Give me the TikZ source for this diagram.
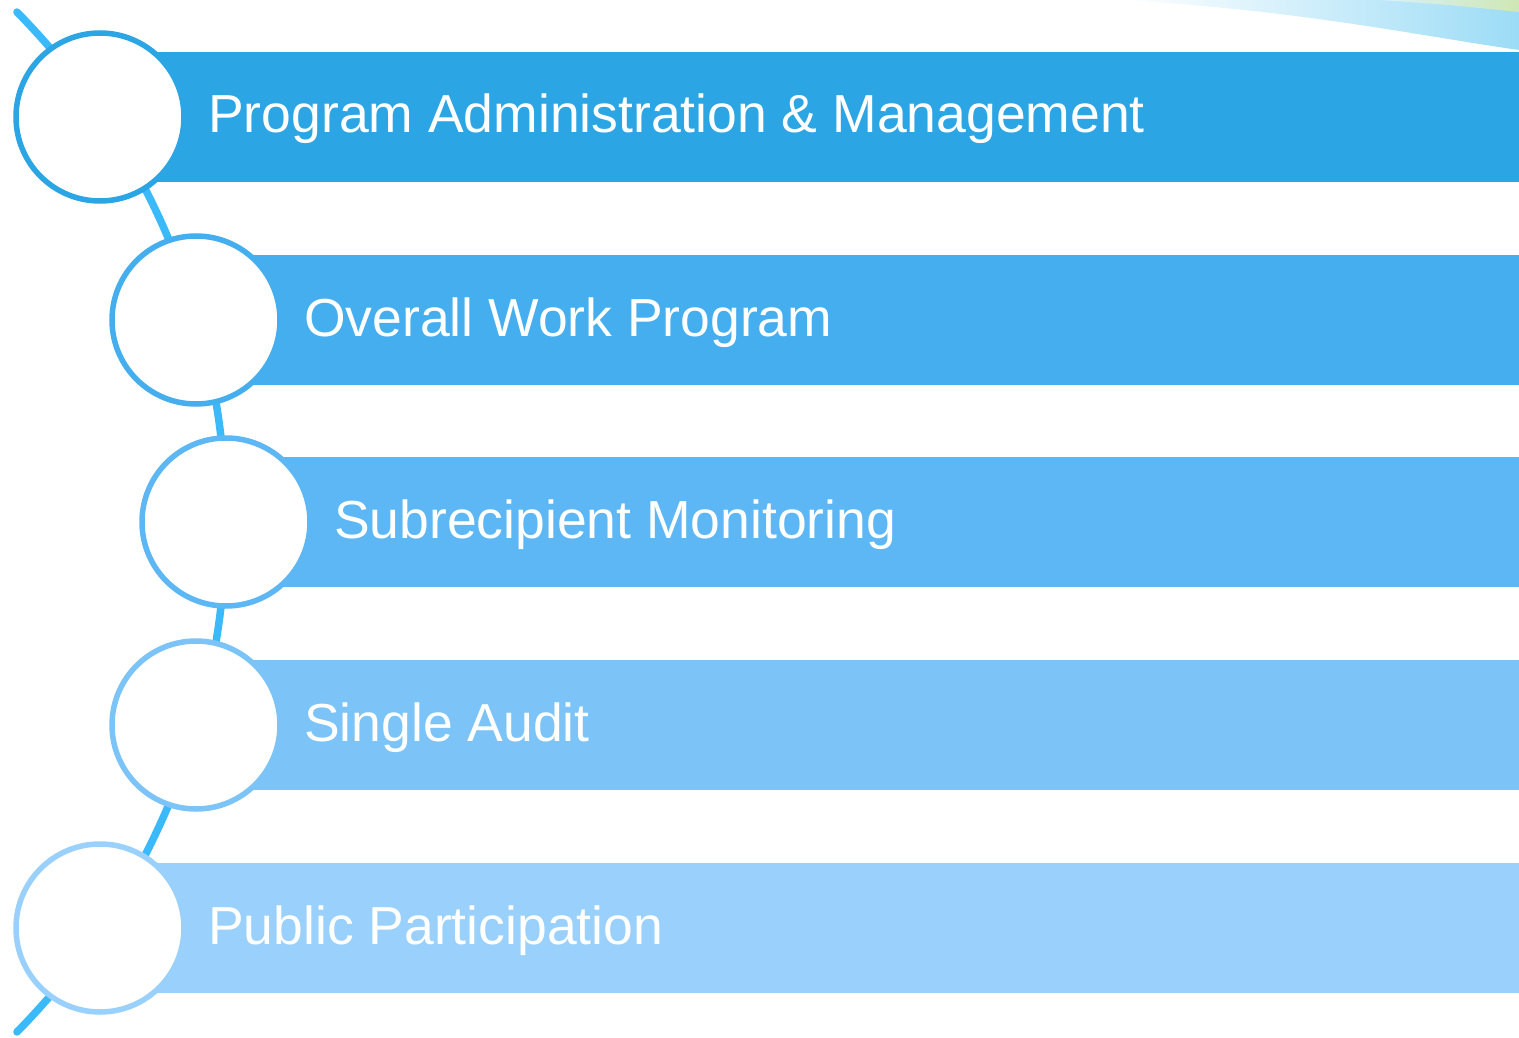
\documentclass[tikz,border=0pt]{standalone}
\usepackage{fontspec}
\setmainfont{Liberation Sans}
\usepackage{xcolor}
\usetikzlibrary{positioning}
\definecolor{stepA}{HTML}{2CA5E5}
\definecolor{stepB}{HTML}{45AEEF}
\definecolor{stepC}{HTML}{5EB7F5}
\definecolor{stepD}{HTML}{7CC3F8}
\definecolor{stepE}{HTML}{9AD0FC}
\definecolor{arcblue}{HTML}{3AB9FB}
\definecolor{streakblue}{HTML}{9CDCF6}
\definecolor{streakgreen}{HTML}{CFE7B4}

\begin{document}
\begin{tikzpicture}[x=1pt, y=-1pt,
		stepcircle/.style={circle, draw, line width=5.5pt, fill=white, minimum size=168pt, inner sep=0pt},
		stepbar/.style={rectangle, anchor=west, minimum height=130pt, inner sep=0pt},
		steptext/.style={anchor=base west, inner sep=0pt, text=white, font=\fontsize{53.5}{60}\selectfont}]
		\useasboundingbox (0,0) rectangle (1519,1038);
		\shade[left color=white, right color=streakblue] (1120,0) .. controls (1300,10) and (1420,36) .. (1519,50) -- (1519,0) -- cycle;
		\shade[left color=streakblue!40, right color=streakgreen] (1380,0) .. controls (1450,5) .. (1519,12) -- (1519,0) -- cycle;
		\def\R{726.7}
		\draw[line width=7.5pt, line cap=round, arcblue, domain=-44.57:44.57, samples=150, variable=\t] plot ({-500.7+\R*cos(\t)}, {522+\R*sin(\t)});
		\foreach \i/\cx/\cy/\col/\txt in {1/100/117/stepA/Program Administration \& Management,
			2/196/320/stepB/Overall Work Program,
			3/226/522/stepC/Subrecipient Monitoring,
			4/196/725/stepD/Single Audit,
			5/100/928/stepE/Public Participation} {
			\node[stepbar, fill=\col, minimum width={1540-\cx}] (b\i) at (\cx,\cy) {};
			\node[stepcircle, draw=\col] (c\i) at (\cx,\cy) {};
			\node[steptext] (t\i) at (\cx+108,\cy+16) {\txt};
		}
	\end{tikzpicture}
\end{document}
